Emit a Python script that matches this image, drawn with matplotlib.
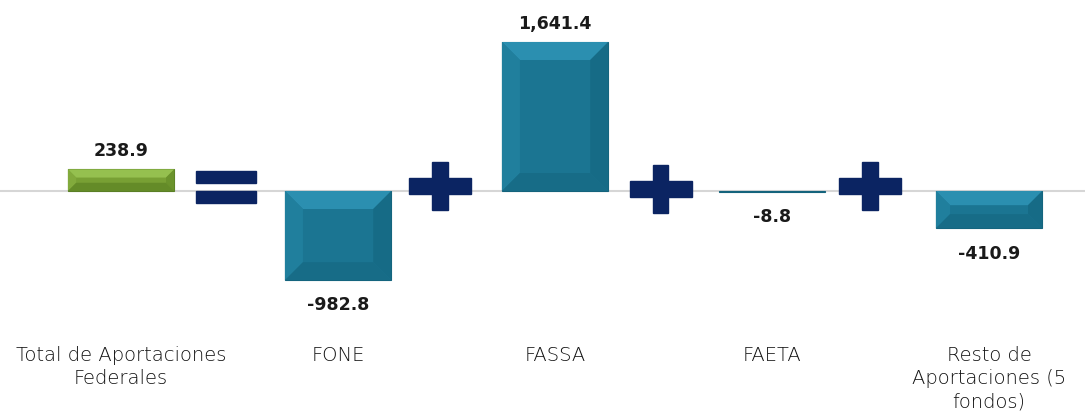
import numpy as np
import matplotlib
matplotlib.use("Agg")
import matplotlib.pyplot as plt
from matplotlib.patches import Polygon, Rectangle

# data
categories = ['Total de Aportaciones\nFederales', 'FONE', 'FASSA', 'FAETA',
              'Resto de\nAportaciones (5\nfondos)']
values = [238.9, -982.8, 1641.4, -8.8, -410.9]
operators = ['=', '+', '+', '+']
op_shift = [-0.016, -0.03, -0.014, -0.048]

# colours (base, top, left, right, bottom)
teal = ['#1b7592', '#2b8fb0', '#207f9d', '#166b86', '#176c87']
green = ['#78a034', '#95c04f', '#82aa3c', '#6b932c', '#648b28']
navy = '#0b2462'

fig = plt.figure(figsize=(10.85, 4.14), dpi=100)
ax = fig.add_axes([0, 0, 1, 1])
ax.set_xlim(-0.558, 4.442)
ax.set_ylim(-2445.6, 2115.1)
ax.axis('off')

# pixel -> data scale
px_x = (4.442 + 0.558) / 1085.0
px_y = (2115.1 + 2445.6) / 414.0

ax.axhline(0, color='#d6d6d6', lw=1.5, zorder=1)

x = np.arange(len(values))
width = 0.49
bars = ax.bar(x, values, width, color=teal[0], zorder=2, linewidth=0.8,
              edgecolor='#14637c')
bars[0].set_facecolor(green[0])
bars[0].set_edgecolor('#5a7f25')

# bevel faces
for i, b in enumerate(bars):
    cols = green if i == 0 else teal
    x0, x1 = b.get_x(), b.get_x() + b.get_width()
    y0 = min(0, values[i])
    y1 = max(0, values[i])
    h_px = (y1 - y0) / px_y
    if h_px < 3:
        continue
    bev = min(18, 0.38 * h_px)
    bx, by = bev * px_x, bev * px_y
    ix0, ix1, iy0, iy1 = x0 + bx, x1 - bx, y0 + by, y1 - by
    faces = [
        ([(x0, y1), (x1, y1), (ix1, iy1), (ix0, iy1)], cols[1]),
        ([(x0, y0), (x0, y1), (ix0, iy1), (ix0, iy0)], cols[2]),
        ([(x1, y0), (x1, y1), (ix1, iy1), (ix1, iy0)], cols[3]),
        ([(x0, y0), (x1, y0), (ix1, iy0), (ix0, iy0)], cols[4]),
    ]
    for pts, c in faces:
        ax.add_patch(Polygon(pts, closed=True, facecolor=c, edgecolor='none',
                             zorder=3))

# value labels
for i, v in enumerate(values):
    txt = '{:,.1f}'.format(v)
    if v >= 0:
        ax.annotate(txt, (x[i], v), xytext=(0, 10), textcoords='offset points',
                    ha='center', va='baseline', fontsize=12.5,
                    fontweight='bold', color='#1a1a1a')
    else:
        ax.annotate(txt, (x[i], v), xytext=(0, -11), textcoords='offset points',
                    ha='center', va='top', fontsize=12.5,
                    fontweight='bold', color='#1a1a1a')

# operators between bars
for i, op in enumerate(operators):
    cx = x[i] + 0.5 + op_shift[i]
    if op == '=':
        w, t, gap = 60 * px_x, 12.5 * px_y, 7.5 * px_y
        cy = 4 * px_y
        ax.add_patch(Rectangle((cx - w / 2, cy + gap / 2), w, t,
                               color=navy, zorder=4))
        ax.add_patch(Rectangle((cx - w / 2, cy - gap / 2 - t), w, t,
                               color=navy, zorder=4))
    else:
        w, h = 62 * px_x, 48 * px_y
        tx, ty = 15.5 * px_y, 15.5 * px_x
        cy = (5 if i != 2 else 2) * px_y
        ax.add_patch(Rectangle((cx - w / 2, cy - tx / 2), w, tx,
                               color=navy, zorder=4))
        ax.add_patch(Rectangle((cx - ty / 2, cy - h / 2), ty, h,
                               color=navy, zorder=4))

# category labels
trans = ax.get_xaxis_transform()
for i, c in enumerate(categories):
    ax.text(x[i], 1 - 346 / 414.0, c, transform=trans, ha='center', va='top',
            fontsize=14, color='#111111', linespacing=1.3,
            fontweight='light')

fig.savefig('out.png', dpi=100)
